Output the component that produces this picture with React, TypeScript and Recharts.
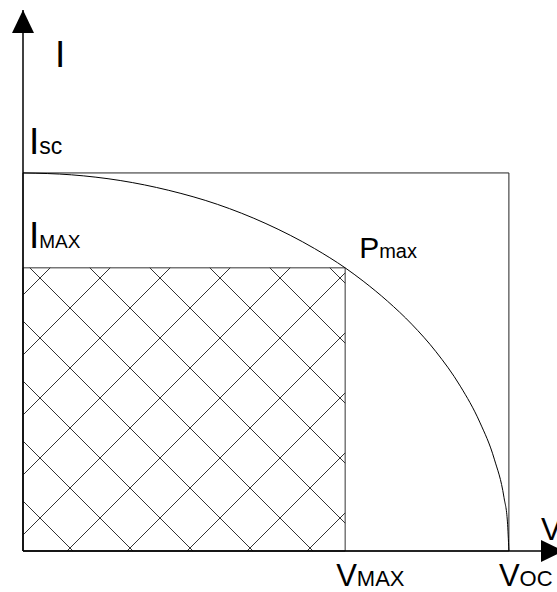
import React from "react";
import {
  ComposedChart,
  Line,
  XAxis,
  YAxis,
  ReferenceArea,
  ReferenceLine,
  ReferenceDot,
} from "recharts";

// I-V curve of a solar cell (arbitrary units: Voc = 100, Isc = 100)
const vOc = 100;
const vMax = 66.3;
const iSc = 100;
const iMax = 74.9;
const vAxisEnd = 109.9;
const iAxisEnd = 143.1;

// points
const curveV = [0, 10, 20, 30, 40, 50, 60, 66.3, 70, 75, 80, 85, 90, 94, 97, 99, 99.7, 100];
const curveI = [100, 99.5, 98, 95.4, 91.7, 86.6, 80, 74.9, 71.4, 66.1, 60, 52.7, 43.6, 34.1, 24.3, 14.1, 7.7, 0];

const curve = curveV.map((v, k) => ({ v, i: curveI[k] }));

const font = "'Liberation Sans', Arial, sans-serif";

type LabelSpec = { main: string; sub: string; v: number; i: number };

const labels: LabelSpec[] = [
  { main: "I", sub: "", v: 0, i: iAxisEnd },
  { main: "V", sub: "", v: vAxisEnd, i: 0 },
  { main: "I", sub: "sc", v: 0, i: iSc },
  { main: "I", sub: "MAX", v: 0, i: iMax },
  { main: "P", sub: "max", v: vMax, i: iMax },
  { main: "V", sub: "MAX", v: vMax, i: 0 },
  { main: "V", sub: "OC", v: vOc, i: 0 },
];

// offsets / font sizes per label, same order as labels
const labelStyle = [
  { dx: 32, dy: 57, size: 37, subSize: 20 },
  { dx: -16, dy: -11, size: 31, subSize: 20 },
  { dx: 6, dy: -19, size: 37, subSize: 23 },
  { dx: 6, dy: -20, size: 37, subSize: 19 },
  { dx: 14, dy: -10, size: 30, subSize: 20 },
  { dx: -9, dy: 35, size: 31, subSize: 22 },
  { dx: -10, dy: 35, size: 31, subSize: 22 },
];

export default function App() {
  return (
    <div style={{ position: "absolute", left: 0, top: 0, background: "#fff" }}>
      <ComposedChart
        width={557}
        height={592}
        data={curve}
        margin={{ top: 10, right: 0, bottom: 41, left: 23 }}
      >
        <defs>
          <pattern
            id="hatch"
            patternUnits="userSpaceOnUse"
            x={10}
            y={8}
            width={60}
            height={60}
          >
            <line x1={-2} y1={-2} x2={62} y2={62} stroke="#333" strokeWidth={1} />
            <line x1={62} y1={-2} x2={-2} y2={62} stroke="#333" strokeWidth={1} />
          </pattern>
        </defs>
        <XAxis dataKey="v" type="number" domain={[0, vAxisEnd]} hide />
        <YAxis type="number" domain={[0, iAxisEnd]} hide width={0} />
        <ReferenceArea
          x1={0}
          x2={vMax}
          y1={0}
          y2={iMax}
          fill="url(#hatch)"
          fillOpacity={1}
          stroke="#333"
          strokeWidth={1}
          ifOverflow="visible"
        />
        <ReferenceArea
          x1={0}
          x2={vOc}
          y1={0}
          y2={iSc}
          fill="none"
          stroke="#222"
          strokeWidth={1}
          ifOverflow="visible"
        />
        <Line
          dataKey="i"
          type="monotone"
          stroke="#000"
          strokeWidth={1}
          dot={false}
          isAnimationActive={false}
        />
        <ReferenceLine x={0} stroke="#000" strokeWidth={1.5} ifOverflow="visible" />
        <ReferenceLine y={0} stroke="#000" strokeWidth={1.5} ifOverflow="visible" />
        <ReferenceDot
          x={0}
          y={iAxisEnd}
          ifOverflow="visible"
          shape={(p: any) => (
            <polygon
              points={`${p.cx},${p.cy} ${p.cx - 11},${p.cy + 23} ${p.cx + 11},${p.cy + 23}`}
              fill="#000"
            />
          )}
        />
        <ReferenceDot
          x={vAxisEnd}
          y={0}
          ifOverflow="visible"
          shape={(p: any) => (
            <polygon
              points={`${p.cx + 7},${p.cy} ${p.cx - 16},${p.cy - 11} ${p.cx - 16},${p.cy + 11}`}
              fill="#000"
            />
          )}
        />
        {labels.map((l, k) => {
          const s = labelStyle[k];
          return (
            <ReferenceDot
              key={k}
              x={l.v}
              y={l.i}
              ifOverflow="visible"
              shape={(p: any) => (
                <text
                  x={p.cx + s.dx}
                  y={p.cy + s.dy}
                  fontFamily={font}
                  fontSize={s.size}
                  fill="#000"
                >
                  {l.main}
                  {l.sub ? <tspan fontSize={s.subSize}>{l.sub}</tspan> : null}
                </text>
              )}
            />
          );
        })}
      </ComposedChart>
    </div>
  );
}
